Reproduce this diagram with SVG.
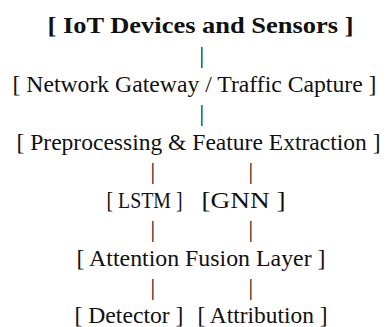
<svg xmlns="http://www.w3.org/2000/svg" width="388" height="327" viewBox="0 0 388 327">
  <style>
    text { font-family: 'Liberation Serif', 'DejaVu Serif', serif; font-size: 23px; fill: #111; }
    .title { font-weight: bold; font-size: 24px; }
  </style>
  <rect width="388" height="327" fill="#fff"/>
  <g id="connectors" text-anchor="middle">
    <text x="201.7" y="63">|</text>
    <text x="201.7" y="121">|</text>
    <text x="152.7" y="179">|</text>
    <text x="250.7" y="179">|</text>
    <text x="152.7" y="237">|</text>
    <text x="250.7" y="237">|</text>
    <text x="152.7" y="295">|</text>
    <text x="250.7" y="295">|</text>
  </g>
  <g id="iot-devices"><text class="title" x="47.5" y="33" textLength="306" lengthAdjust="spacingAndGlyphs">[ IoT Devices and Sensors ]</text></g>
  <g id="gateway"><text x="12.5" y="92" textLength="364" lengthAdjust="spacingAndGlyphs">[ Network Gateway / Traffic Capture ]</text></g>
  <g id="preprocessing"><text x="16.5" y="150" textLength="364" lengthAdjust="spacingAndGlyphs">[ Preprocessing &amp; Feature Extraction ]</text></g>
  <g id="lstm"><text x="106.5" y="208" textLength="76" lengthAdjust="spacingAndGlyphs">[ LSTM ]</text></g>
  <g id="gnn"><text x="201.5" y="208" textLength="84" lengthAdjust="spacingAndGlyphs">[GNN ]</text></g>
  <g id="attention-fusion"><text x="76.5" y="266" textLength="249" lengthAdjust="spacingAndGlyphs">[ Attention Fusion Layer ]</text></g>
  <g id="detector"><text x="74.5" y="323" textLength="109" lengthAdjust="spacingAndGlyphs">[ Detector ]</text></g>
  <g id="attribution"><text x="197.5" y="323" textLength="130" lengthAdjust="spacingAndGlyphs">[ Attribution ]</text></g>
</svg>
